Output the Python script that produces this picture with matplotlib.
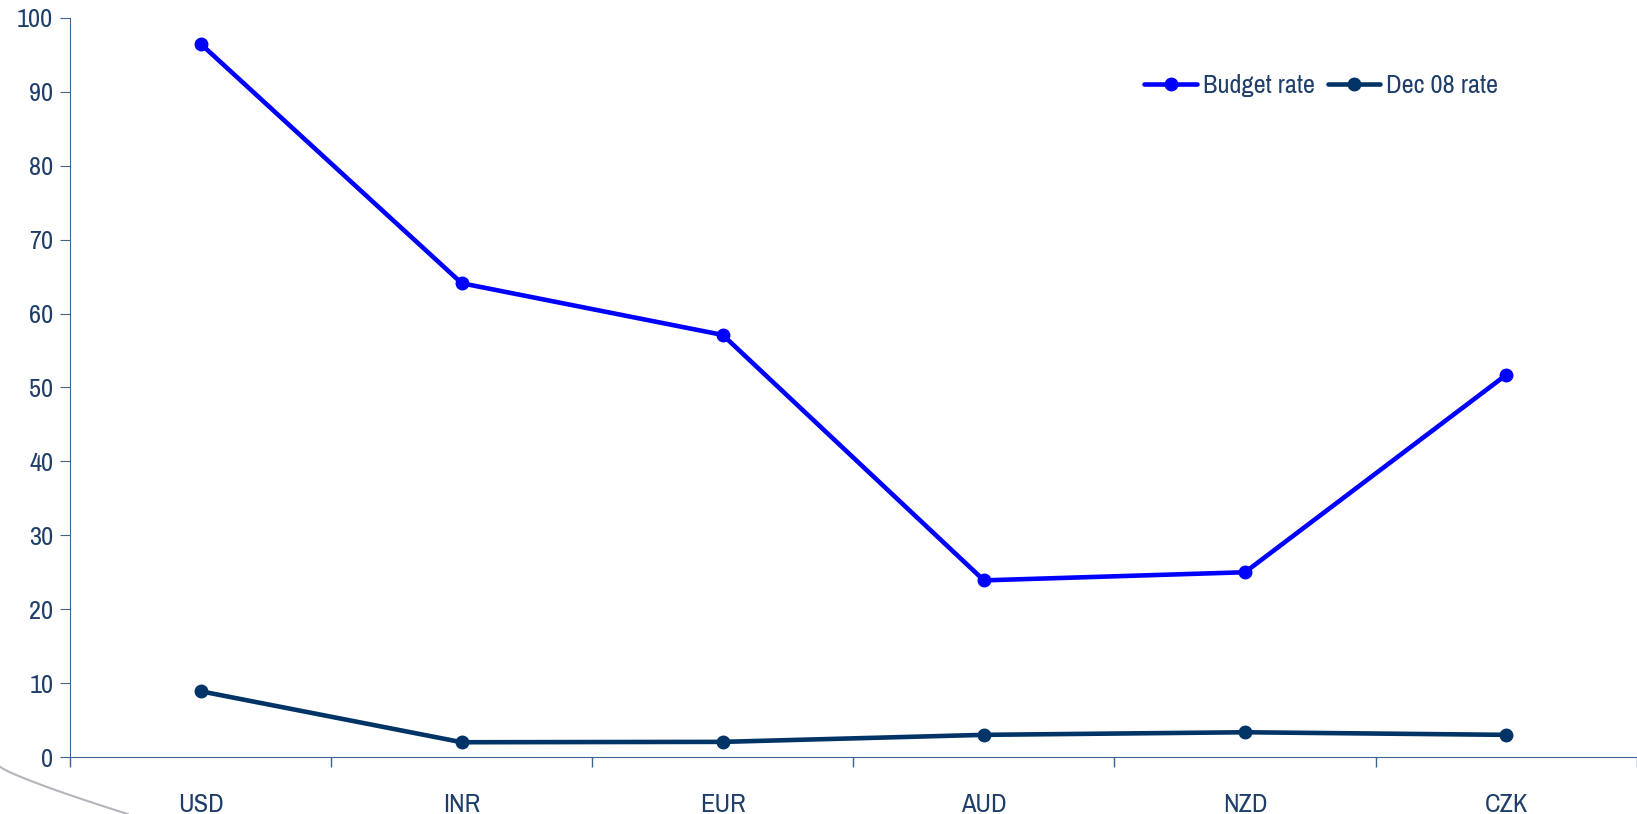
#!/usr/bin/env python3

import matplotlib
matplotlib.use("Agg")
import matplotlib.pyplot as plt
from matplotlib.lines import Line2D
import numpy as np


CURRENCIES = ["USD", "INR", "EUR", "AUD", "NZD", "CZK"]
BUDGET_RATE = [96.5, 64.1, 57.1, 23.9, 25.0, 51.7]
DEC08_RATE = [8.9, 2.0, 2.05, 3.0, 3.35, 3.0]

TEXT = "#1f3f6a"
AXIS = "#3d6591"


def main():
    plt.rcParams["font.family"] = ["Liberation Sans Narrow", "Archivo Narrow",
                                   "Liberation Sans", "DejaVu Sans"]

    fig = plt.figure(figsize=(16.37, 8.14), dpi=100)
    ax = fig.add_axes([0.0428, 0.07, 0.957, 0.908])

    x = np.arange(len(CURRENCIES))
    ax.plot(x, BUDGET_RATE, color="#0000ff", lw=3.3, marker="o", ms=9,
            label="Budget rate", solid_capstyle="round")
    ax.plot(x, DEC08_RATE, color="#003366", lw=3.3, marker="o", ms=9,
            label="Dec 08 rate", solid_capstyle="round")

    ax.set_xlim(-0.5, len(CURRENCIES) - 0.5)
    ax.set_ylim(0, 100)
    ax.set_yticks(range(0, 101, 10))

    ax.set_xticks(x)
    ax.set_xticklabels(CURRENCIES)
    ax.set_xticks(np.arange(-0.5, len(CURRENCIES)), minor=True)
    ax.tick_params(axis="x", which="major", length=0, pad=26, labelsize=19, labelcolor=TEXT)
    ax.tick_params(axis="x", which="minor", length=7, direction="out", color=AXIS, width=1)
    ax.tick_params(axis="y", length=7, color=AXIS, labelsize=19, labelcolor=TEXT, pad=5)

    for side in ["top", "right"]:
        ax.spines[side].set_visible(False)
    ax.spines["left"].set_color(AXIS)
    ax.spines["bottom"].set_color(AXIS)

    leg = ax.legend(loc="center right", bbox_to_anchor=(0.918, 0.908), ncol=2, frameon=False,
                    fontsize=19, handlelength=2.0, handletextpad=0.2, columnspacing=0.5,
                    borderaxespad=0)
    for t in leg.get_texts():
        t.set_color(TEXT)

    # decorative swoosh at bottom left
    t = np.linspace(0, 1, 50)
    fig.add_artist(Line2D(t * 0.078, 0.058 - 0.058 * t ** 0.85, color="#b4b4bc",
                          lw=1.5, transform=fig.transFigure))

    fig.savefig("out.png", dpi=100)


if __name__ == "__main__":
    main()
